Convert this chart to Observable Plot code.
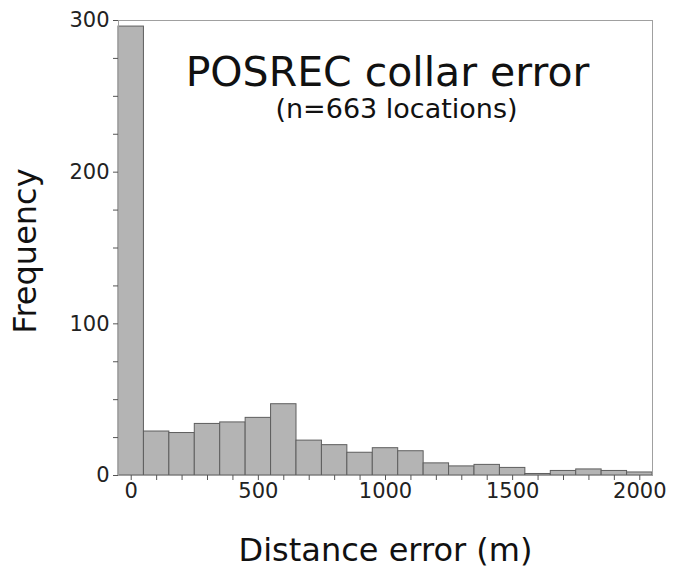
<!DOCTYPE html>
<html>
<head>
<meta charset="utf-8">
<script src="https://cdn.jsdelivr.net/npm/d3@7"></script>
<script src="https://cdn.jsdelivr.net/npm/@observablehq/plot@0.6"></script>
<style>
  html, body { margin: 0; padding: 0; background: #fff; }
  svg { display: block; }
</style>
</head>
<body>
<div id="chart"></div>
<script>
// Bin centres (m), bin width 100 m
const binCenters = [0, 100, 200, 300, 400, 500, 600, 700, 800, 900, 1000,
                    1100, 1200, 1300, 1400, 1500, 1600, 1700, 1800, 1900, 2000];
const counts = [296, 29, 28, 34, 35, 38, 47, 23, 20, 15, 18,
                16, 8, 6, 7, 5, 1, 3, 4, 3, 2];
const binWidth = 100;
const xTicks = d3.range(0, 2001, 100);
const xLabels = [0, 500, 1000, 1500, 2000];
const yTicks = d3.range(0, 301, 25);
const yLabels = [0, 100, 200, 300];
const titleText = "POSREC collar error";
const subtitleText = "(n=663 locations)";
const xTitle = "Distance error (m)";
const yTitle = "Frequency";

const bins = binCenters.map((c, i) => ({x1: c - binWidth / 2, x2: c + binWidth / 2, count: counts[i]}));
const font = "DejaVu Sans, sans-serif";

const chart = Plot.plot({
  width: 674,
  height: 575,
  marginLeft: 118,
  marginRight: 22,
  marginTop: 20,
  marginBottom: 100,
  style: {fontFamily: font, background: "#fff", color: "#222"},
  x: {domain: [-50, 2050]},
  y: {domain: [0, 300]},
  marks: [
    Plot.rectY(bins, {x1: "x1", x2: "x2", y: "count", fill: "#b4b4b4", stroke: "#5e5e5e", strokeWidth: 1}),
    Plot.frame({stroke: "#a0a0a0", strokeWidth: 1}),
    Plot.axisX({ticks: xTicks, tickFormat: d => xLabels.includes(d) ? String(d) : "", tickSize: 5, tickPadding: 3,
                fontSize: 21, label: null, stroke: "#555", fill: "#222"}),
    Plot.axisY({ticks: yTicks, tickFormat: d => yLabels.includes(d) ? String(d) : "", tickSize: 5, tickPadding: 4,
                fontSize: 21, label: null, stroke: "#555", fill: "#222"}),
    Plot.text([titleText], {frameAnchor: "top", lineAnchor: "middle", textAnchor: "middle", dx: 2, dy: 52,
                            text: d => d, fontSize: 41, fill: "#111", fontFamily: font}),
    Plot.text([subtitleText], {frameAnchor: "top", lineAnchor: "middle", textAnchor: "middle", dx: 11, dy: 89,
                               text: d => d, fontSize: 27, fill: "#111", fontFamily: font}),
    Plot.text([xTitle], {frameAnchor: "bottom", lineAnchor: "middle", textAnchor: "middle", dy: 75,
                         text: d => d, fontSize: 32, fill: "#111", fontFamily: font}),
    Plot.text([yTitle], {frameAnchor: "left", lineAnchor: "middle", textAnchor: "middle", dx: -93, dy: 3, rotate: -90,
                         text: d => d, fontSize: 32, fill: "#111", fontFamily: font})
  ]
});
document.getElementById("chart").appendChild(chart);
</script>
</body>
</html>
